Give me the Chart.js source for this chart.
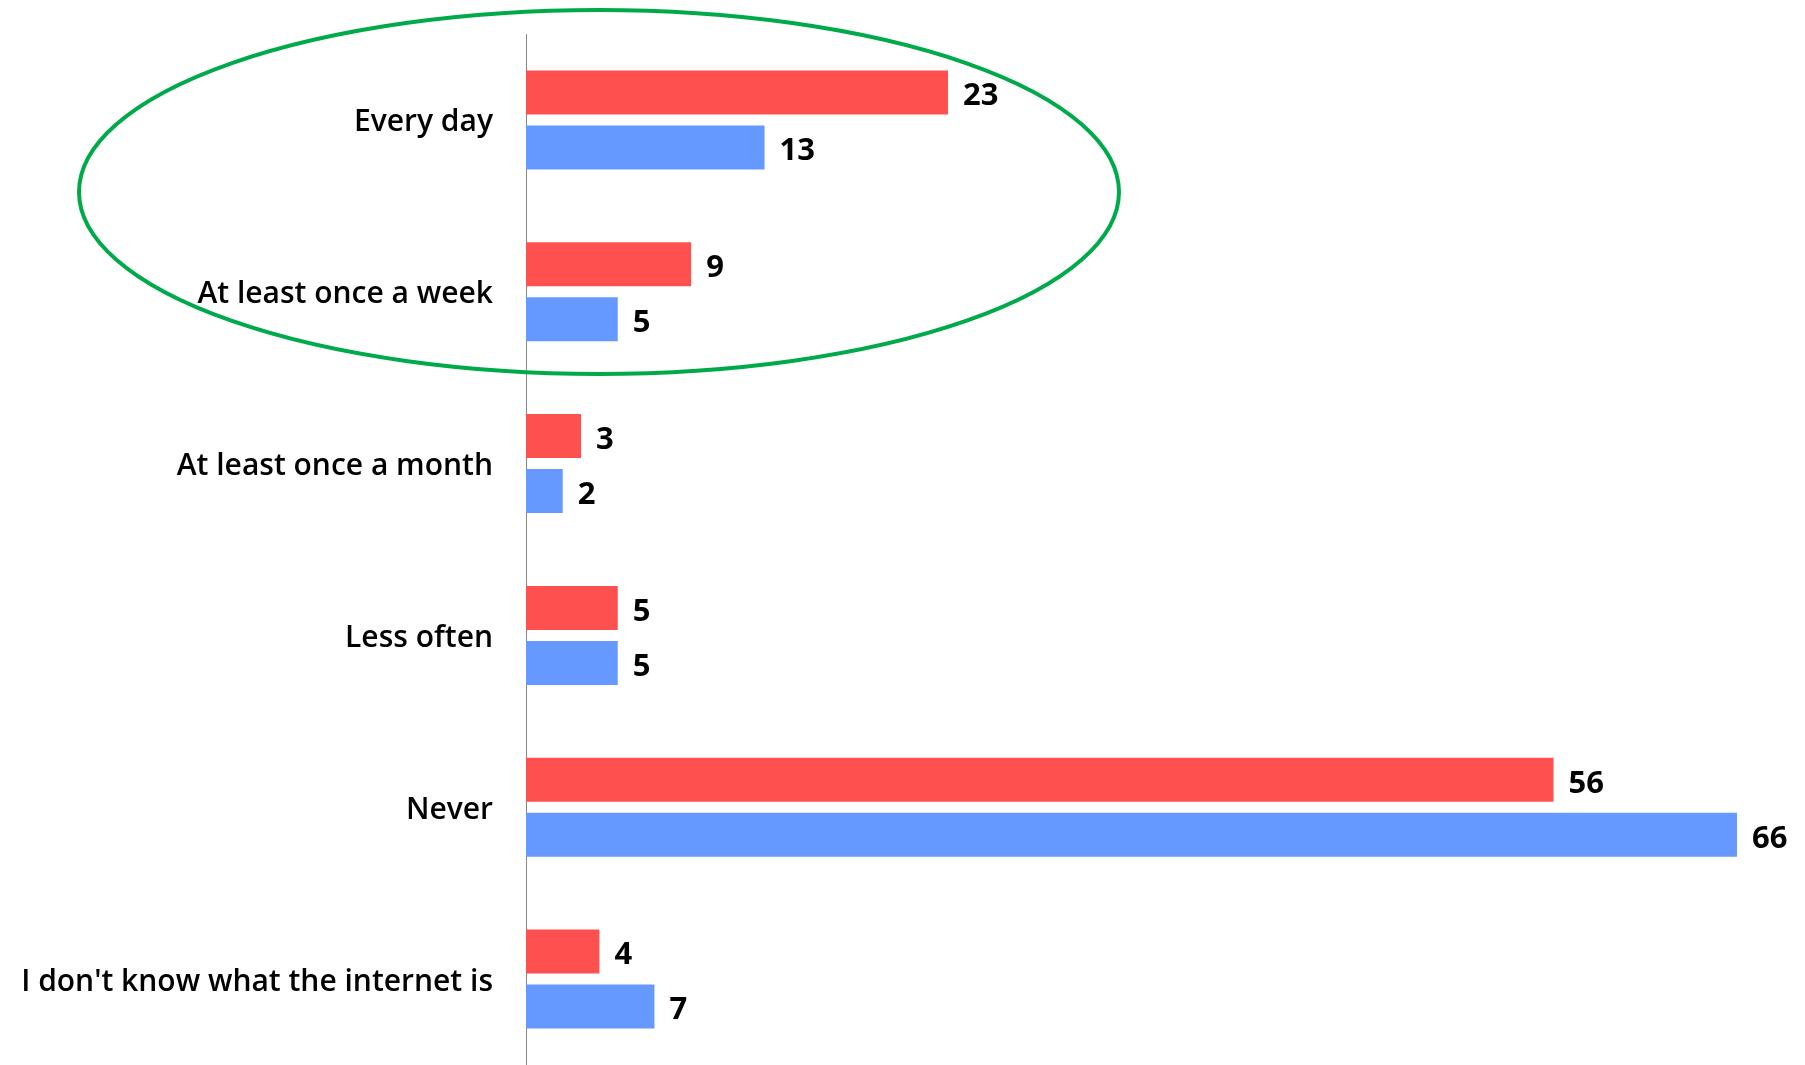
<!DOCTYPE html>
<html>
<head>
<meta charset="utf-8">
<script src="https://cdn.jsdelivr.net/npm/chart.js@4.4.1/dist/chart.umd.min.js"></script>
<style>
  html, body { margin: 0; padding: 0; background: #fff; }
  #wrap { width: 1805px; height: 1065px; }
</style>
</head>
<body>
<div id="wrap"><canvas id="chart" width="1805" height="1065"></canvas></div>
<script>
// categories and the two series
const categories = ['Every day', 'At least once a week', 'At least once a month', 'Less often', 'Never', "I don't know what the internet is"];
const redValues = [23, 9, 3, 5, 56, 4];
const blueValues = [13, 5, 2, 5, 66, 7];

const FONT = '"Open Sans", "Liberation Sans", sans-serif';

// value labels at the end of every bar
const valueLabels = {
    id: 'valueLabels',
    afterDatasetsDraw(chart) {
        const ctx = chart.ctx;
        ctx.save();
        ctx.font = '700 31px ' + FONT;
        ctx.fillStyle = '#000';
        ctx.textBaseline = 'middle';
        ctx.textAlign = 'left';
        chart.data.datasets.forEach((ds, i) => {
            chart.getDatasetMeta(i).data.forEach((bar, j) => {
                ctx.fillText(ds.data[j], bar.x + 15, bar.y + 4);
            });
        });
        ctx.restore();
    }
};

// the green ring around the first two groups
const ring = {
    id: 'ring',
    afterDraw(chart) {
        const ctx = chart.ctx;
        ctx.save();
        ctx.strokeStyle = '#00AA4A';
        ctx.lineWidth = 4;
        ctx.beginPath();
        ctx.ellipse(599, 192, 520, 182, 0, 0, Math.PI * 2);
        ctx.stroke();
        ctx.restore();
    }
};

new Chart(document.getElementById('chart').getContext('2d'), {
    type: 'bar',
    data: {
        labels: categories,
        datasets: [
            { data: redValues, backgroundColor: '#FF5050', categoryPercentage: 0.64, barPercentage: 0.8 },
            { data: blueValues, backgroundColor: '#6699FF', categoryPercentage: 0.64, barPercentage: 0.8 }
        ]
    },
    options: {
        indexAxis: 'y',
        responsive: false,
        animation: false,
        layout: { padding: { top: 34, right: 68, bottom: 0, left: 0 } },
        plugins: { legend: { display: false }, tooltip: { enabled: false } },
        scales: {
            x: {
                min: 0, max: 66,
                display: false
            },
            y: {
                grid: { display: false, drawTicks: false },
                border: { display: true, color: '#888', width: 1 },
                ticks: {
                    color: '#000',
                    padding: 33,
                    labelOffset: 3,
                    font: { family: FONT, size: 30, weight: '600' }
                },
                afterFit(scale) {
                    // fixed label column, and no extra room above/below the axis
                    scale.width = 526;
                    scale.paddingTop = 0;
                    scale.paddingBottom = 0;
                }
            }
        }
    },
    plugins: [valueLabels, ring]
});
</script>
</body>
</html>
